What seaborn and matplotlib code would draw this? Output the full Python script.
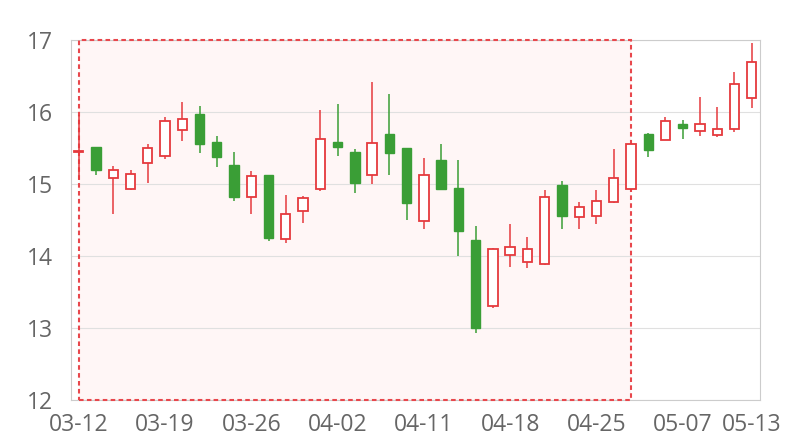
import numpy as np
import pandas as pd
import matplotlib
matplotlib.use("Agg")
import matplotlib.pyplot as plt
from matplotlib.patches import Rectangle
import seaborn as sns

# trading days (labels shown every 5th bar + last one)
dates = ["03-12", "03-13", "03-14", "03-15", "03-18", "03-19", "03-20", "03-21", "03-22", "03-25",
         "03-26", "03-27", "03-28", "03-29", "04-01", "04-02", "04-03", "04-04", "04-08", "04-09",
         "04-11", "04-12", "04-15", "04-16", "04-17", "04-18", "04-19", "04-22", "04-23", "04-24",
         "04-25", "04-26", "04-29", "04-30", "05-06", "05-07", "05-08", "05-09", "05-10", "05-13"]

open_ = [15.44, 15.51, 15.09, 14.93, 15.29, 15.39, 15.75, 15.97, 15.59, 15.26,
         14.82, 15.12, 14.24, 14.62, 14.93, 15.58, 15.45, 15.13, 15.70, 15.50,
         14.49, 15.33, 14.95, 14.22, 13.30, 14.02, 13.91, 13.89, 14.98, 14.54,
         14.56, 14.75, 14.93, 15.69, 15.61, 15.83, 15.73, 15.68, 15.77, 16.19]
close = [15.44, 15.19, 15.20, 15.14, 15.50, 15.87, 15.90, 15.56, 15.37, 14.82,
         15.11, 14.25, 14.59, 14.81, 15.63, 15.51, 15.02, 15.57, 15.43, 14.74,
         15.12, 14.93, 14.35, 13.00, 14.10, 14.13, 14.10, 14.82, 14.56, 14.68,
         14.76, 15.09, 15.55, 15.47, 15.87, 15.78, 15.84, 15.77, 16.39, 16.70]
high = [15.96, 15.51, 15.25, 15.20, 15.56, 15.93, 16.14, 16.08, 15.67, 15.44,
        15.18, 15.12, 14.85, 14.84, 16.03, 16.11, 15.48, 16.41, 16.25, 15.50,
        15.36, 15.55, 15.34, 14.41, 14.11, 14.45, 14.26, 14.91, 15.04, 14.75,
        14.91, 15.48, 15.56, 15.71, 15.93, 15.89, 16.21, 16.07, 16.56, 16.96]
low = [15.06, 15.13, 14.58, 14.91, 15.01, 15.35, 15.60, 15.43, 15.24, 14.77,
       14.59, 14.21, 14.18, 14.46, 14.90, 15.39, 14.87, 15.00, 15.12, 14.50,
       14.37, 14.93, 14.00, 12.93, 13.28, 13.85, 13.84, 13.88, 14.38, 14.37,
       14.44, 14.73, 14.91, 15.37, 15.61, 15.62, 15.66, 15.65, 15.72, 16.05]

highlight_start, highlight_end = 0, 32   # bar indices of the marked area

df = pd.DataFrame({"date": dates, "open": open_, "close": close, "high": high, "low": low})
df["x"] = np.arange(len(df))
df["up"] = df["close"] >= df["open"]
df["bottom"] = df[["open", "close"]].min(axis=1)
df["height"] = (df["close"] - df["open"]).abs().clip(lower=0.015)

RED = "#e5393d"
GREEN = "#3a9e36"

sns.set_theme(style="white")
plt.rcParams["font.family"] = ["Open Sans", "DejaVu Sans"]

fig = plt.figure(figsize=(8, 4.4), dpi=100)
ax = fig.add_axes([71 / 800, 40 / 440, 689 / 800, 360 / 440])

# highlighted range
ax.add_patch(Rectangle((highlight_start, 12), highlight_end - highlight_start, 5,
                       facecolor="#fff6f6", edgecolor="none", zorder=0.2))
ax.add_patch(Rectangle((highlight_start, 12), highlight_end - highlight_start, 5,
                       facecolor="none", edgecolor="#e8474c", lw=1.5,
                       linestyle=(0, (2.2, 1.6)), zorder=2.8, clip_on=False))

# wicks
for up, color in [(True, RED), (False, GREEN)]:
    sub = df[df["up"] == up]
    ax.vlines(sub["x"], sub["low"], sub["high"], color=color, lw=1.1, zorder=3)

# bodies
up = df[df["up"]]
dn = df[~df["up"]]
ax.bar(up["x"], up["height"], bottom=up["bottom"], width=0.54,
       facecolor="white", edgecolor=RED, linewidth=1.3, zorder=4)
ax.bar(dn["x"], dn["height"], bottom=dn["bottom"], width=0.54,
       facecolor=GREEN, edgecolor=GREEN, linewidth=1.0, zorder=4)

ax.set_xlim(-0.45, len(df) - 0.52)
ax.set_ylim(12, 17)
ax.set_yticks(range(12, 18))
tick_idx = list(range(0, len(df), 5)) + [len(df) - 1]
ax.set_xticks(tick_idx)
ax.set_xticklabels([dates[i] for i in tick_idx])

ax.grid(axis="y", color="#e0e0e0", lw=0.8, zorder=0.5)
ax.grid(axis="x", visible=False)
for s in ax.spines.values():
    s.set_color("#cccccc")
    s.set_linewidth(0.8)
ax.tick_params(axis="both", length=0, labelsize=16.5, labelcolor="#666666")
ax.tick_params(axis="y", pad=13)
ax.tick_params(axis="x", pad=9)
ax.set_xlabel("")
ax.set_ylabel("")

fig.savefig("out.png", dpi=100)
